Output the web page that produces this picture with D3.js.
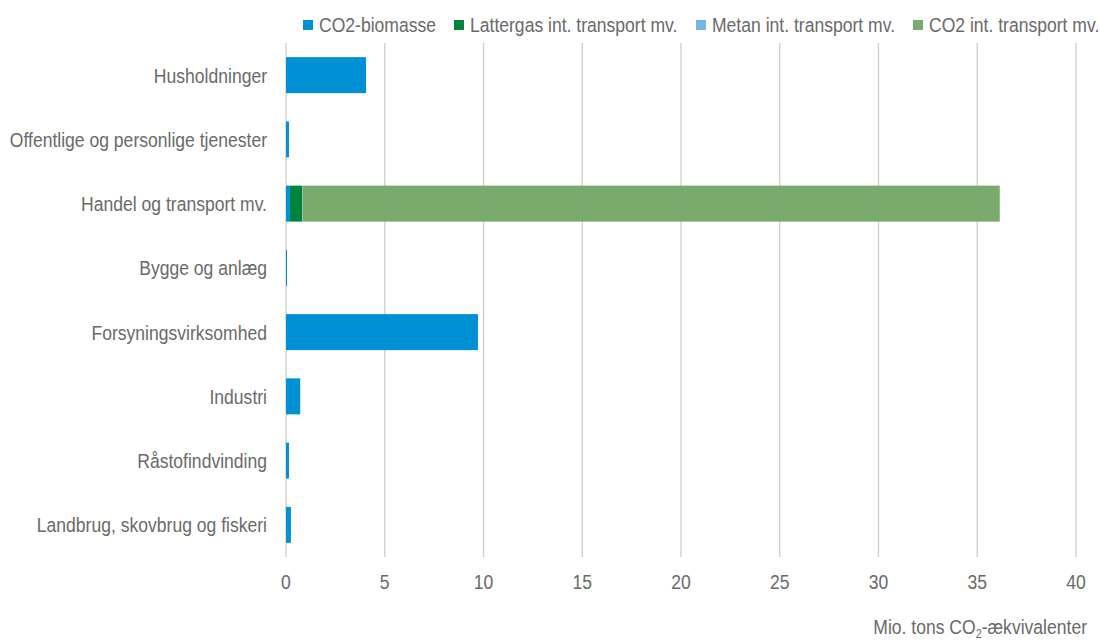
<!DOCTYPE html>
<html><head><meta charset="utf-8">
<script src="https://cdn.jsdelivr.net/npm/d3@7"></script>
<style>body{margin:0;background:#fff}svg{display:block}</style>
</head><body><svg id="c" width="1100" height="640"></svg>
<script>
const categories = ["Husholdninger","Offentlige og personlige tjenester","Handel og transport mv.","Bygge og anlæg","Forsyningsvirksomhed","Industri","Råstofindvinding","Landbrug, skovbrug og fiskeri"];
const seriesNames = ["CO2-biomasse","Lattergas int. transport mv.","Metan int. transport mv.","CO2 int. transport mv."];
const co2Biomasse = [4.05, 0.15, 0.2, 0.05, 9.72, 0.72, 0.15, 0.25];
const lattergas   = [0, 0, 0.62, 0, 0, 0, 0, 0];
const metan       = [0, 0, 0.02, 0, 0, 0, 0, 0];
const co2Int      = [0, 0, 35.3, 0, 0, 0, 0, 0];
const xTicks = [0,5,10,15,20,25,30,35,40];
const colors = ["#0090d4","#00843d","#74b5e4","#79ab6e"];
const font = "'Liberation Sans',Arial,sans-serif";
const txt = "#6a6a6a";
const FS = 19.5, SX = 0.9;

const svg = d3.select("#c");
const m = {l:286, r:1076, t:43, b:557};
const x = d3.scaleLinear().domain([0,40]).range([m.l, m.r]);
const y = d3.scaleBand().domain(categories).range([m.t, m.b]).paddingInner(0.44).paddingOuter(0.22);

const rows = categories.map((c,i)=>({cat:c, v:[co2Biomasse[i], lattergas[i], metan[i], co2Int[i]]}));
const stack = d3.stack().keys([0,1,2,3]).value((d,k)=>d.v[k]);
const layers = stack(rows);

function label(g, px, py, anchor, s, size){
  return g.append("text").attr("transform",`translate(${px},${py}) scale(${SX},1)`)
    .attr("text-anchor",anchor).attr("font-family",font).attr("font-size",size||FS).attr("fill",txt).text(s);
}

// gridlines
svg.append("g").selectAll("line").data(xTicks).join("line")
  .attr("x1",d=>x(d)).attr("x2",d=>x(d)).attr("y1",m.t).attr("y2",m.b)
  .attr("stroke","#cfcfc6").attr("stroke-width",1.3);

svg.append("g").selectAll("g").data(layers).join("g").attr("fill",(d,i)=>colors[i])
  .selectAll("rect").data(d=>d).join("rect")
  .attr("x",d=>x(d[0])).attr("width",d=>Math.max(0,x(d[1])-x(d[0])))
  .attr("y",d=>y(d.data.cat)).attr("height",y.bandwidth());

// x tick labels
const tg = svg.append("g");
xTicks.forEach(d=>label(tg, x(d), 589, "middle", d));

// category labels
const cg = svg.append("g");
categories.forEach(c=>label(cg, 267, y(c)+y.bandwidth()/2+7.5, "end", c));

// axis title
const t = svg.append("text").attr("transform","translate(1087,634) scale(0.9,1)").attr("text-anchor","end")
  .attr("font-family",font).attr("font-size",FS).attr("fill",txt);
t.append("tspan").text("Mio. tons CO");
t.append("tspan").attr("font-size",12).attr("dy",4).text("2");
t.append("tspan").attr("dy",-4).text("-ækvivalenter");

// legend
const legX = [303, 454, 696, 913];
const lg = svg.append("g");
seriesNames.forEach((s,i)=>{
  lg.append("rect").attr("x",legX[i]).attr("y",20).attr("width",10).attr("height",10).attr("fill",colors[i]);
  label(lg, legX[i]+16, 32, "start", s);
});
</script></body></html>
